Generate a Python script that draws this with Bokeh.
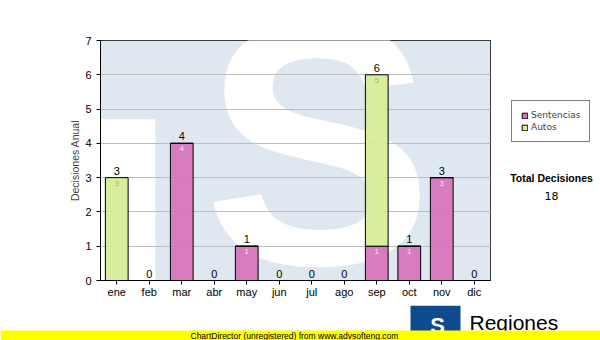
from bokeh.plotting import figure
from bokeh.layouts import column, row
from bokeh.models import (Range1d, FixedTicker, Legend, LegendItem, ColumnDataSource)
from bokeh.core.properties import value
from bokeh.embed import file_html
from bokeh.resources import INLINE

months = ["ene", "feb", "mar", "abr", "may", "jun", "jul", "ago", "sep", "oct", "nov", "dic"]
sentencias = [0, 0, 4, 0, 1, 0, 0, 0, 1, 1, 3, 0]
autos = [3, 0, 0, 0, 0, 0, 0, 0, 5, 0, 0, 0]
series_names = ["Sentencias", "Autos"]
series_colors = ["#d672ba", "#d6ed94"]
inner_label_colors = ["#fbe6f4", "#a8a8a8"]
y_ticks = [0, 1, 2, 3, 4, 5, 6, 7]
y_title = "Decisiones Anual"
total_title = "Total Decisiones"
footer_text = "ChartDirector (unregistered) from www.advsofteng.com"
logo_text = "Regiones"

totals = [s + a for s, a in zip(sentencias, autos)]
grand_total = sum(totals)
xpos = [i + 0.5 for i in range(len(months))]

FONT = "Liberation Sans"

# ================= main chart =================
p = figure(width=492, height=305, x_range=Range1d(0, len(months)),
           y_range=Range1d(0, 7), output_backend="svg", toolbar_location=None,
           min_border_left=100, min_border_right=2, min_border_top=40, min_border_bottom=25,
           background_fill_color="white", border_fill_color="white")

# watermark (decorative background logo)
p.quad(left=[0], right=[12], bottom=[0], top=[7],
       fill_color="#dfe8f1", line_color=None, level="image")
p.quad(left=[0], right=[1.69], bottom=[0], top=[4.7],
       fill_color="white", line_color=None, level="image")
p.text(x=[6.7], y=[0.12], text=["S"], text_align="center", y_offset=-132,
       text_baseline="alphabetic", text_font=value(FONT), text_font_style="bold",
       text_font_size="345px", text_color="white", level="image")

# bars
src = ColumnDataSource(dict(x=xpos, Sentencias=sentencias, Autos=autos,
                            totals=totals, tot_txt=[str(t) for t in totals]))
renderers = p.vbar_stack(series_names, x="x", width=0.7, source=src,
                         fill_color=series_colors, fill_alpha=0.92,
                         line_color="black", line_width=1)

# total labels on top
p.text(x="x", y="totals", text="tot_txt", source=src, text_align="center",
       text_baseline="bottom", y_offset=-3, text_font=value(FONT),
       text_font_size="11px", text_color="black")

# inner labels
bottoms = [0] * len(months)
for name, vals, col in zip(series_names, [sentencias, autos], inner_label_colors):
    xs, ys, ts = [], [], []
    for xx, b, v in zip(xpos, bottoms, vals):
        if v > 0:
            xs.append(xx)
            ys.append(b + v)
            ts.append(str(v))
    p.text(x=xs, y=ys, text=ts, text_align="center", text_baseline="top", y_offset=3,
           text_font=value(FONT), text_font_size="8px", text_color=col)
    bottoms = [b + v for b, v in zip(bottoms, vals)]

# axes & grid
p.xaxis.ticker = FixedTicker(ticks=xpos)
p.xaxis.major_label_overrides = {xx: m for xx, m in zip(xpos, months)}
p.xaxis.minor_tick_line_color = None
p.yaxis.ticker = FixedTicker(ticks=y_ticks)
p.yaxis.minor_tick_line_color = None
p.yaxis.major_tick_in = 0
p.yaxis.major_tick_out = 4
p.yaxis.axis_label = y_title
p.yaxis.axis_label_text_font = FONT
p.yaxis.axis_label_text_font_style = "normal"
p.yaxis.axis_label_text_font_size = "10.5px"
p.yaxis.axis_label_standoff = 1
p.xaxis.major_tick_in = 0
p.xaxis.major_tick_out = 4
p.xaxis.major_label_standoff = 1
for ax in (p.xaxis, p.yaxis):
    ax.axis_line_color = "black"
    ax.major_tick_line_color = "black"
    ax.major_label_text_font = FONT
    ax.major_label_text_font_size = "11px"
    ax.major_label_text_color = "black"
p.xgrid.grid_line_color = None
p.ygrid.grid_line_color = "#bdbdbd"
p.ygrid.grid_line_width = 1
p.outline_line_color = "black"
p.outline_line_alpha = 1

# ================= right side panel (legend + total) =================
side = figure(width=108, height=305, x_range=Range1d(0, 108), y_range=Range1d(305, 0),
              output_backend="svg", toolbar_location=None, min_border=0,
              x_axis_type=None, y_axis_type=None, outline_line_color=None,
              background_fill_color="white", border_fill_color="white")
side.xgrid.grid_line_color = None
side.ygrid.grid_line_color = None
# legend proxies (placed outside the visible range; only their swatches are shown)
proxy_src = [ColumnDataSource(dict(l=[-60], r=[-50], b=[-60], t=[-50])) for _ in series_colors]
proxies = [side.quad(left="l", right="r", bottom="b", top="t", source=s, fill_color=c,
                     line_color="black") for s, c in zip(proxy_src, series_colors)]
legend = Legend(items=[LegendItem(label=n, renderers=[r]) for n, r in zip(series_names, proxies)],
                location=(19, 138), label_text_font="DejaVu Sans",
                label_text_font_size="9px", glyph_width=7, glyph_height=7,
                label_height=9, spacing=2, padding=9, margin=0, label_standoff=3,
                border_line_color="black", border_line_width=1, background_fill_alpha=1)
side.add_layout(legend)
side.text(x=[59], y=[175], text=[total_title], text_align="center", text_baseline="middle",
          text_font=value(FONT), text_font_style="bold", text_font_size="10.5px",
          text_color="black")
side.text(x=[59], y=[198], text=[str(grand_total)], text_align="center", text_baseline="middle",
          text_font=value("DejaVu Sans"), text_font_size="11px", text_color="black")

# ================= bottom strip (logo + footer) =================
bottom = figure(width=600, height=35, x_range=Range1d(0, 600), y_range=Range1d(35, 0),
                output_backend="svg", toolbar_location=None, min_border=0,
                x_axis_type=None, y_axis_type=None, outline_line_color=None,
                background_fill_color="white", border_fill_color="white")
bottom.xgrid.grid_line_color = None
bottom.ygrid.grid_line_color = None
bottom.quad(left=[410], right=[460], top=[0], bottom=[27], fill_color="#0f4a8e", line_color=None)
bottom.text(x=[437], y=[20], text=["S"], text_align="center", text_baseline="alphabetic",
            text_font=value(FONT), text_font_style="bold", text_font_size="22px",
            text_color="white")
bottom.text(x=[469], y=[17], text=[logo_text], text_align="left", text_baseline="alphabetic",
            text_font=value(FONT), text_font_size="21px", text_color="black")
bottom.quad(left=[0], right=[600], top=[25], bottom=[35], fill_color="#ffff00", line_color=None)
bottom.text(x=[190], y=[30.5], text=[footer_text], text_align="left", text_baseline="alphabetic",
            text_font=value(FONT), text_font_size="8.5px", text_color="black")

layout = column(row(p, side, spacing=0), bottom, spacing=0)
open("out.html", "w").write(file_html(layout, INLINE))
